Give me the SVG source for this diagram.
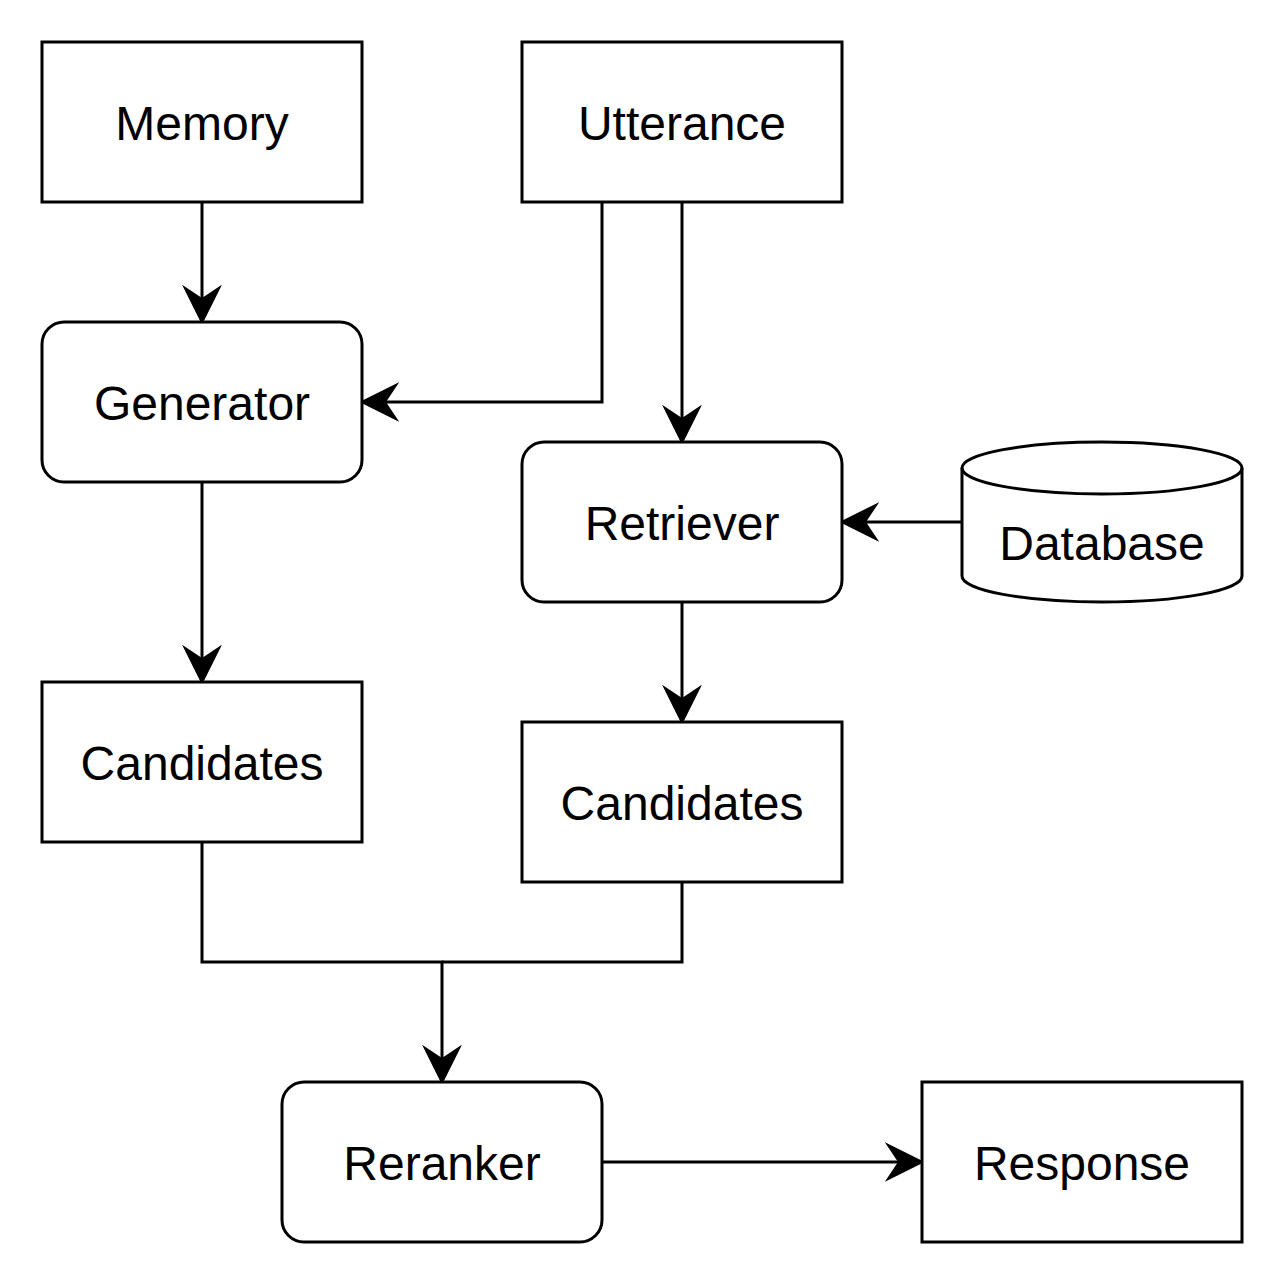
<svg xmlns="http://www.w3.org/2000/svg" width="1288" height="1288" viewBox="0 0 1288 1288">
<style>
.box{fill:#fff;stroke:#000;stroke-width:3}
.lbl{font-family:"Liberation Sans",Arial,sans-serif;font-size:48px;text-anchor:middle;fill:#000}
.edge{fill:none;stroke:#000;stroke-width:3}
</style>
<defs>
<marker id="arr" markerUnits="userSpaceOnUse" markerWidth="40" markerHeight="40" viewBox="0 0 36 36" refX="12" refY="18" orient="auto">
<path d="M0,0 L36,18 L0,36 L12,18 Z" fill="#000"/>
</marker>
</defs>
<rect width="1288" height="1288" fill="#fff"/>
<g id="connectors">
<path class="edge" d="M202,202 V298" marker-end="url(#arr)"/>
<path class="edge" d="M602,202 V402 H386" marker-end="url(#arr)"/>
<path class="edge" d="M682,202 V418" marker-end="url(#arr)"/>
<path class="edge" d="M962,522 H866" marker-end="url(#arr)"/>
<path class="edge" d="M682,602 V698" marker-end="url(#arr)"/>
<path class="edge" d="M202,482 V658" marker-end="url(#arr)"/>
<path class="edge" d="M202,842 V962 H442 V1058" marker-end="url(#arr)"/>
<path class="edge" d="M682,882 V962 H442"/>
<path class="edge" d="M602,1162 H898" marker-end="url(#arr)"/>
</g>
<g id="memory"><rect class="box" x="42" y="42" width="320" height="160"/><text class="lbl" x="202" y="140">Memory</text></g>
<g id="utterance"><rect class="box" x="522" y="42" width="320" height="160"/><text class="lbl" x="682" y="140">Utterance</text></g>
<g id="generator"><rect class="box" x="42" y="322" width="320" height="160" rx="22"/><text class="lbl" x="202" y="420">Generator</text></g>
<g id="retriever"><rect class="box" x="522" y="442" width="320" height="160" rx="22"/><text class="lbl" x="682" y="540">Retriever</text></g>
<g id="database"><path class="box" d="M962,468 A140,26 0 0 1 1242,468 V576 A140,26 0 0 1 962,576 Z"/><path class="edge" d="M962,468 A140,26 0 0 0 1242,468"/><text class="lbl" x="1102" y="560">Database</text></g>
<g id="candidates-gen"><rect class="box" x="42" y="682" width="320" height="160"/><text class="lbl" x="202" y="780">Candidates</text></g>
<g id="candidates-ret"><rect class="box" x="522" y="722" width="320" height="160"/><text class="lbl" x="682" y="820">Candidates</text></g>
<g id="reranker"><rect class="box" x="282" y="1082" width="320" height="160" rx="22"/><text class="lbl" x="442" y="1180">Reranker</text></g>
<g id="response"><rect class="box" x="922" y="1082" width="320" height="160"/><text class="lbl" x="1082" y="1180">Response</text></g>
</svg>
